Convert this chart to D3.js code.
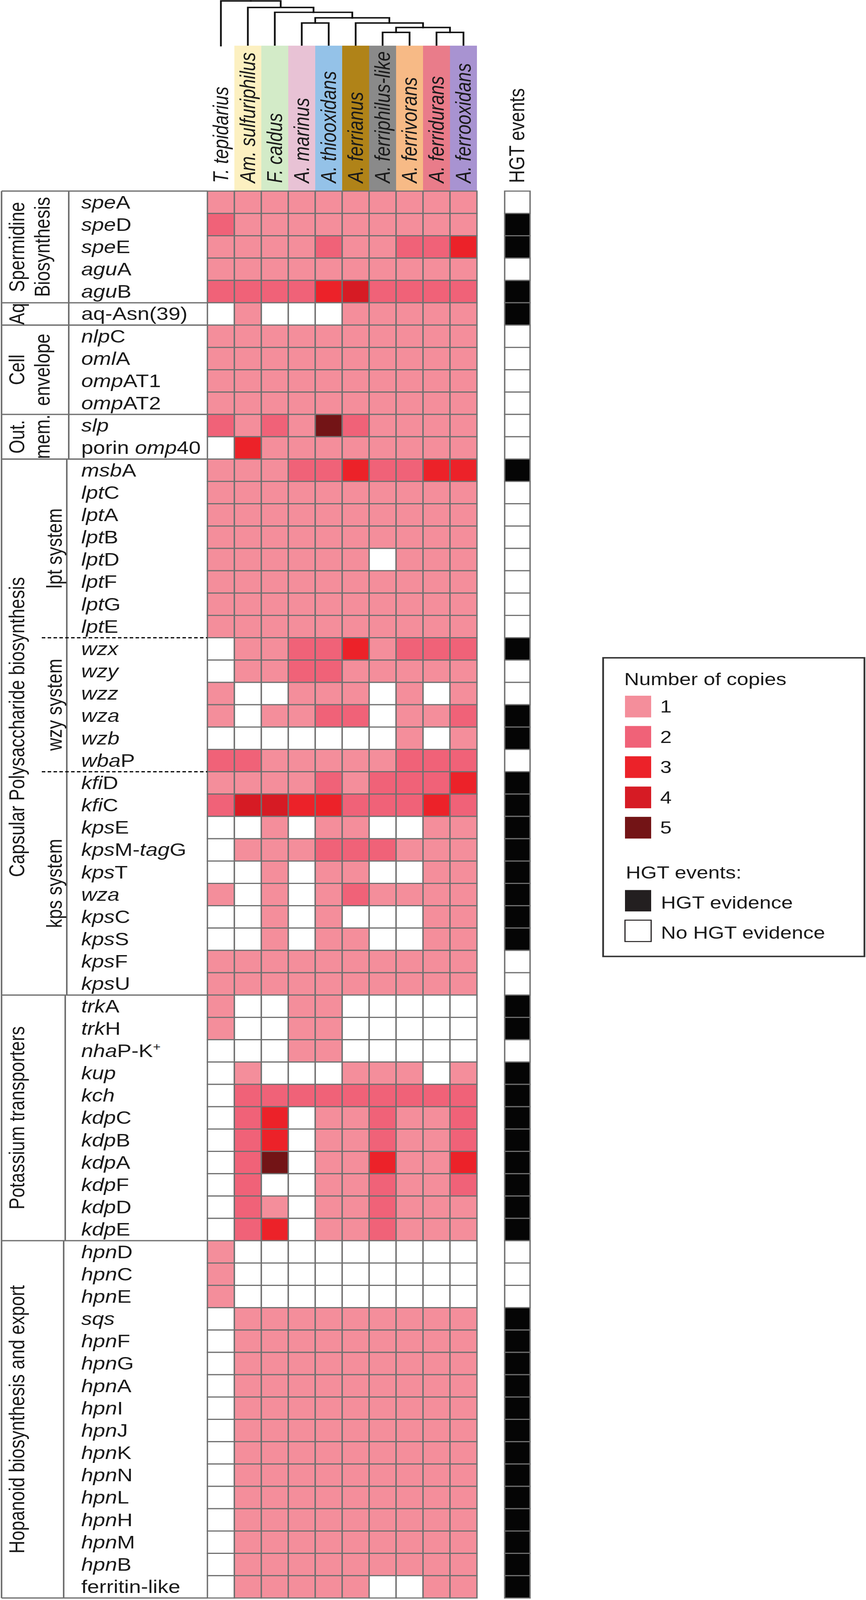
<!DOCTYPE html>
<html lang="en">
<head>
<meta charset="UTF-8">
<title>Gene copy numbers and HGT events</title>
<script src="https://d3js.org/d3.v7.min.js"></script>
<style>
  html, body { margin: 0; padding: 0; background: #fff; overflow: hidden; }
  svg { display: block; }
  text { font-family: "Liberation Sans", Arial, Helvetica, sans-serif; fill: #1a1a1a; }
</style>
</head>
<body>
<script>
    // columns of the heatmap, in tree order
    const species = ["T. tepidarius", "Am. sulfuriphilus", "F. caldus", "A. marinus", "A. thiooxidans",
        "A. ferrianus", "A. ferriphilus-like", "A. ferrivorans", "A. ferridurans", "A. ferrooxidans"];

    // cladogram; h = node height, leaf = species index
    const tree = {h: 0, children: [
        {leaf: 0},
        {h: 20, children: [
            {leaf: 1},
            {h: 35, children: [
                {leaf: 2},
                {h: 52, children: [
                    {h: 68, children: [{leaf: 3}, {leaf: 4}]},
                    {h: 68, children: [
                        {leaf: 5},
                        {h: 82, children: [
                            {h: 97, children: [{leaf: 6}, {leaf: 7}]},
                            {h: 97, children: [{leaf: 8}, {leaf: 9}]}
                        ]}
                    ]}
                ]}
            ]}
        ]}
    ]};

    // gene labels: *...* italic, ^...^ superscript
    const genes = [
        "*spe*A", "*spe*D", "*spe*E", "*agu*A", "*agu*B",
        "aq-Asn(39)",
        "*nlp*C", "*oml*A", "*omp*AT1", "*omp*AT2",
        "*slp*", "porin *omp*40",
        "*msb*A", "*lpt*C", "*lpt*A", "*lpt*B", "*lpt*D", "*lpt*F", "*lpt*G", "*lpt*E",
        "*wzx*", "*wzy*", "*wzz*", "*wza*", "*wzb*", "*wba*P",
        "*kfi*D", "*kfi*C", "*kps*E", "*kps*M-*tag*G", "*kps*T", "*wza*", "*kps*C", "*kps*S", "*kps*F", "*kps*U",
        "*trk*A", "*trk*H", "*nha*P-K^+^", "*kup*", "*kch*", "*kdp*C", "*kdp*B", "*kdp*A", "*kdp*F", "*kdp*D", "*kdp*E",
        "*hpn*D", "*hpn*C", "*hpn*E", "*sqs*", "*hpn*F", "*hpn*G", "*hpn*A", "*hpn*I", "*hpn*J", "*hpn*K",
        "*hpn*N", "*hpn*L", "*hpn*H", "*hpn*M", "*hpn*B", "ferritin-like"
    ];

    // number of copies per gene (rows) and species (columns)
    const copies = [
        [1,1,1,1,1,1,1,1,1,1],
        [2,1,1,1,1,1,1,1,1,1],
        [1,1,1,1,2,1,1,2,2,3],
        [1,1,1,1,1,1,1,1,1,1],
        [2,2,2,2,3,4,2,2,2,2],
        [0,1,0,0,0,1,1,1,1,1],
        [1,1,1,1,1,1,1,1,1,1],
        [1,1,1,1,1,1,1,1,1,1],
        [1,1,1,1,1,1,1,1,1,1],
        [1,1,1,1,1,1,1,1,1,1],
        [2,1,2,1,5,2,1,1,1,1],
        [0,3,1,1,1,1,1,1,1,1],
        [1,1,1,2,2,3,2,2,3,3],
        [1,1,1,1,1,1,1,1,1,1],
        [1,1,1,1,1,1,1,1,1,1],
        [1,1,1,1,1,1,1,1,1,1],
        [1,1,1,1,1,1,0,1,1,1],
        [1,1,1,1,1,1,1,1,1,1],
        [1,1,1,1,1,1,1,1,1,1],
        [1,1,1,1,1,1,1,1,1,1],
        [0,1,1,2,2,3,1,2,2,2],
        [0,1,1,2,2,1,1,1,1,1],
        [1,0,0,1,1,1,0,1,0,1],
        [1,0,1,1,2,2,0,1,1,2],
        [0,0,0,0,0,0,0,1,0,1],
        [2,2,1,1,1,1,1,2,2,2],
        [1,1,1,1,2,1,2,2,2,3],
        [2,4,4,3,3,2,2,2,3,2],
        [0,0,1,0,1,1,0,0,1,1],
        [0,1,1,1,2,2,2,1,1,1],
        [0,0,1,0,1,1,0,0,1,1],
        [1,0,1,0,1,2,1,1,1,1],
        [0,0,1,0,1,0,0,0,1,1],
        [0,0,1,0,1,1,0,0,1,1],
        [1,1,1,1,1,1,1,1,1,1],
        [1,1,1,1,1,1,1,1,1,1],
        [1,0,0,1,1,0,0,0,0,0],
        [1,0,0,1,1,0,0,0,0,0],
        [0,0,0,1,1,0,0,0,0,0],
        [0,1,0,0,0,1,1,1,0,1],
        [0,2,2,2,2,2,2,2,2,2],
        [0,2,3,0,1,1,2,1,1,2],
        [0,2,3,0,1,1,2,1,1,2],
        [0,2,5,0,1,1,3,1,1,3],
        [0,2,0,0,1,1,2,1,1,2],
        [0,2,1,0,1,1,2,1,1,1],
        [0,2,3,0,1,1,2,1,1,1],
        [1,0,0,0,0,0,0,0,0,0],
        [1,0,0,0,0,0,0,0,0,0],
        [1,0,0,0,0,0,0,0,0,0],
        [0,1,1,1,1,1,1,1,1,1],
        [0,1,1,1,1,1,1,1,1,1],
        [0,1,1,1,1,1,1,1,1,1],
        [0,1,1,1,1,1,1,1,1,1],
        [0,1,1,1,1,1,1,1,1,1],
        [0,1,1,1,1,1,1,1,1,1],
        [0,1,1,1,1,1,1,1,1,1],
        [0,1,1,1,1,1,1,1,1,1],
        [0,1,1,1,1,1,1,1,1,1],
        [0,1,1,1,1,1,1,1,1,1],
        [0,1,1,1,1,1,1,1,1,1],
        [0,1,1,1,1,1,1,1,1,1],
        [0,1,1,1,1,1,0,0,1,1]
    ];

    // 1 = HGT evidence
    const hgt = [0,1,1,0,1, 1, 0,0,0,0, 0,0,
        1,0,0,0,0,0,0,0, 1,0,0,1,1,0, 1,1,1,1,1,1,1,1,0,0,
        1,1,0,1,1,1,1,1,1,1,1,
        0,0,0,1,1,1,1,1,1,1,1,1,1,1,1,1];

    // functional groups: label lines and number of rows
    const sections = [
        {label: ["Spermidine", "Biosynthesis"], rows: 5},
        {label: ["Aq"], rows: 1},
        {label: ["Cell", "envelope"], rows: 4},
        {label: ["Out.", "mem."], rows: 2},
        {label: ["Capsular Polysaccharide biosynthesis"], rows: 24},
        {label: ["Potassium transporters"], rows: 11},
        {label: ["Hopanoid biosynthesis and export"], rows: 16}
    ];
    const subsections = [
        {label: "lpt system", rows: 8},
        {label: "wzy system", rows: 6},
        {label: "kps system", rows: 10}
    ];
    const copyLevels = [1, 2, 3, 4, 5];

    // ---- layout (drawn in a 2217 x 4940 frame, fitted to the window) ----
    const W = 2217, H = 4940;
    const gridLeft = 531, gridRight = 1221, gridTop = 590, rowH = 68.95;
    const gridBottom = gridTop + rowH * genes.length;
    const boxLeft = 4;
    const dividerX = [176, 176, 176, 176, 171, 167, 163];
    const gray = "#707070";

    const copyColor = d3.scaleOrdinal()
        .domain([0, 1, 2, 3, 4, 5])
        .range(["#ffffff", "#F48E9B", "#F06278", "#EC2229", "#D61B24", "#731416"]);
    const bandColors = [null, "#FCF0C1", "#D3EBC8", "#E8C2D5", "#94C2E8", "#B08318",
        "#8A8A8A", "#F7BA86", "#E97C8A", "#A893D1"];

    const svg = d3.select("body").append("svg")
        .attr("width", window.innerWidth || W)
        .attr("height", Math.min(window.innerHeight || H, H))
        .attr("viewBox", `0 0 ${W} ${H}`)
        .attr("preserveAspectRatio", "none");

    const x = d3.scaleBand().domain(species).range([gridLeft, gridRight]);
    const y = d3.scaleBand().domain(d3.range(genes.length)).range([gridTop, gridBottom]);

    // ---- cladogram ----
    const root = d3.hierarchy(tree);
    const ty = d3.scaleLinear().domain([0, 97]).range([3, 100]);
    const leafBottom = 141;
    root.eachAfter(n => {
        if (n.data.leaf !== undefined) {
            n.px = x(species[n.data.leaf]) + x.bandwidth() / 2;
            n.py = leafBottom;
        } else {
            n.px = d3.mean([n.children[0].px, n.children[n.children.length - 1].px]);
            n.py = ty(n.data.h);
        }
    });
    svg.append("g")
        .selectAll("path")
        .data(root.links())
        .join("path")
        .attr("fill", "none")
        .attr("stroke", "#111")
        .attr("stroke-width", 4.5)
        .attr("stroke-linecap", "square")
        .attr("d", l => `M${l.target.px},${l.target.py}V${l.source.py}H${l.source.px}`);

    // ---- species header ----
    const header = svg.append("g");
    header.selectAll("rect")
        .data(species.filter((s, i) => bandColors[i]))
        .join("rect")
        .attr("x", d => x(d))
        .attr("y", leafBottom)
        .attr("width", x.bandwidth())
        .attr("height", gridTop - leafBottom)
        .attr("fill", d => bandColors[species.indexOf(d)]);
    header.selectAll("text")
        .data(species)
        .join("text")
        .attr("transform", d => `translate(${x(d) + x.bandwidth() / 2 + 18},565) rotate(-90)`)
        .attr("font-size", 55)
        .attr("font-style", "italic")
        .text(d => d);

    const hgtX = 1292, hgtW = 65;
    svg.append("text")
        .attr("transform", `translate(${hgtX + hgtW / 2 + 17},565) rotate(-90)`)
        .attr("font-size", 55)
        .text("HGT events");

    // ---- heatmap ----
    const cells = [];
    copies.forEach((row, r) => row.forEach((v, c) => cells.push({r, c, v})));
    svg.append("g")
        .selectAll("rect")
        .data(cells)
        .join("rect")
        .attr("x", d => x(species[d.c]))
        .attr("y", d => y(d.r))
        .attr("width", x.bandwidth())
        .attr("height", y.bandwidth())
        .attr("fill", d => copyColor(d.v))
        .attr("stroke", gray)
        .attr("stroke-width", 3.5);

    // ---- HGT column ----
    svg.append("g")
        .selectAll("rect")
        .data(hgt)
        .join("rect")
        .attr("x", hgtX)
        .attr("y", (d, i) => y(i))
        .attr("width", hgtW)
        .attr("height", y.bandwidth())
        .attr("fill", d => d ? "#050505" : "#ffffff")
        .attr("stroke", gray)
        .attr("stroke-width", 3.5);

    // ---- gene labels ----
    const geneG = svg.append("g");
    genes.forEach((g, i) => {
        const t = geneG.append("text")
            .attr("x", 208)
            .attr("y", y(i) + y.bandwidth() / 2 + 19)
            .attr("font-size", 55);
        g.split(/(\*[^*]+\*|\^[^^]+\^)/).filter(s => s).forEach(s => {
            if (s[0] === "*") t.append("tspan").attr("font-style", "italic").text(s.slice(1, -1));
            else if (s[0] === "^") t.append("tspan").attr("font-size", 34).attr("dy", -20)
                .style("fill", "#1a1a1a").text(s.slice(1, -1));
            else t.append("tspan").text(s);
        });
    });

    // ---- section boxes and labels ----
    const frame = svg.append("g").attr("fill", "none").attr("stroke", gray).attr("stroke-width", 4);
    frame.append("line").attr("x1", boxLeft).attr("x2", gridLeft).attr("y1", gridTop).attr("y2", gridTop);
    frame.append("line").attr("x1", boxLeft).attr("x2", boxLeft).attr("y1", gridTop).attr("y2", gridBottom);

    let start = 0;
    sections.forEach((s, si) => {
        const y0 = y(start), y1 = y0 + s.rows * rowH, mid = (y0 + y1) / 2;
        frame.append("line").attr("x1", boxLeft).attr("x2", gridLeft).attr("y1", y1).attr("y2", y1);
        frame.append("line").attr("x1", dividerX[si]).attr("x2", dividerX[si]).attr("y1", y0).attr("y2", y1);
        s.label.forEach((line, li) => {
            svg.append("text")
                .attr("transform", `translate(${62 + li * 65},${mid}) rotate(-90)`)
                .attr("text-anchor", "middle")
                .attr("font-size", 55)
                .text(line);
        });
        if (s.rows === 24) {
            let sub = start;
            subsections.forEach((ss, k) => {
                const a = y(sub), b = a + ss.rows * rowH;
                svg.append("text")
                    .attr("transform", `translate(158,${(a + b) / 2}) rotate(-90)`)
                    .attr("text-anchor", "middle")
                    .attr("font-size", 55)
                    .text(ss.label);
                if (k > 0) {
                    svg.append("line")
                        .attr("x1", 107).attr("x2", gridLeft)
                        .attr("y1", a).attr("y2", a)
                        .attr("stroke", "#111")
                        .attr("stroke-width", 4)
                        .attr("stroke-dasharray", "9 6");
                }
                sub += ss.rows;
            });
        }
        start += s.rows;
    });

    // ---- legend ----
    const lg = svg.append("g");
    lg.append("rect")
        .attr("x", 1544).attr("y", 2031)
        .attr("width", 669).attr("height", 922)
        .attr("fill", "none")
        .attr("stroke", "#333")
        .attr("stroke-width", 4.5);
    lg.append("text").attr("x", 1598).attr("y", 2115).attr("font-size", 53).text("Number of copies");
    const ly = d3.scalePoint().domain(copyLevels).range([2148, 2522]);
    lg.selectAll(".sw")
        .data(copyLevels)
        .join("rect")
        .attr("class", "sw")
        .attr("x", 1600).attr("y", d => ly(d))
        .attr("width", 67).attr("height", 67)
        .attr("fill", d => copyColor(d));
    lg.selectAll(".swl")
        .data(copyLevels)
        .join("text")
        .attr("class", "swl")
        .attr("x", 1690).attr("y", d => ly(d) + 52)
        .attr("font-size", 53)
        .text(d => d);
    lg.append("text").attr("x", 1602).attr("y", 2713).attr("font-size", 53).text("HGT events:");
    const hgtLegend = [{label: "HGT evidence", v: 1}, {label: "No HGT evidence", v: 0}];
    hgtLegend.forEach((d, i) => {
        const top = 2748 + i * 93;
        lg.append("rect")
            .attr("x", 1600).attr("y", top)
            .attr("width", 67).attr("height", 66)
            .attr("fill", d.v ? "#231F20" : "#fff")
            .attr("stroke", d.v ? "none" : "#231F20")
            .attr("stroke-width", 3);
        lg.append("text").attr("x", 1692).attr("y", top + 57).attr("font-size", 53).text(d.label);
    });
</script>
</body>
</html>
